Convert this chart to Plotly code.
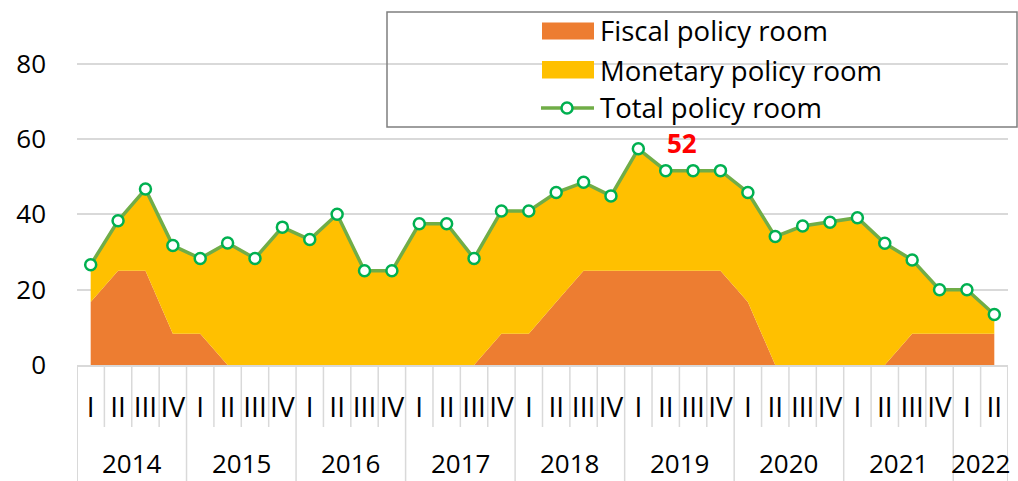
import plotly.graph_objects as go

years = ["2014", "2015", "2016", "2017", "2018", "2019", "2020", "2021", "2022"]
quarters_per_year = [4, 4, 4, 4, 4, 4, 4, 4, 2]
quarter_names = ["I", "II", "III", "IV"]

categories = []
quarter_labels = []
for yr, n in zip(years, quarters_per_year):
    for q in quarter_names[:n]:
        categories.append(f"{yr} {q}")
        quarter_labels.append(q)

fiscal = [16.7, 25.0, 25.0, 8.3, 8.3, 0, 0, 0,
          0, 0, 0, 0, 0, 0, 0, 8.3,
          8.3, 16.7, 25.0, 25.0, 25.0, 25.0, 25.0, 25.0,
          16.7, 0, 0, 0, 0, 0, 8.3, 8.3,
          8.3, 8.3]
monetary = [9.9, 13.3, 21.7, 23.4, 20.0, 32.4, 28.3, 36.6,
            33.3, 40.0, 25.0, 25.0, 37.5, 37.5, 28.3, 32.6,
            32.6, 29.1, 23.5, 19.9, 32.4, 26.6, 26.6, 26.6,
            29.1, 34.1, 36.9, 37.9, 39.1, 32.3, 19.6, 11.7,
            11.7, 5.1]
total = [26.6, 38.3, 46.7, 31.7, 28.3, 32.4, 28.3, 36.6,
         33.3, 40.0, 25.0, 25.0, 37.5, 37.5, 28.3, 40.9,
         40.9, 45.8, 48.5, 44.9, 57.4, 51.6, 51.6, 51.6,
         45.8, 34.1, 36.9, 37.9, 39.1, 32.3, 27.9, 20.0,
         20.0, 13.4]
y_ticks = [0, 20, 40, 60, 80]
highlight_index = 21
highlight_text = "52"
legend_names = ["Fiscal policy room", "Monetary policy room", "Total policy room"]

FONT = "Open Sans"
GRID = "#D9D9D9"
C_FISCAL = "#ED7D31"
C_MONETARY = "#FFC000"
C_LINE = "#70AD47"
C_MARK = "#00B050"

W, H = 1018, 481
ML, MR, MT, MB = 77, 10, 26, 116
PW, PH = W - ML - MR, H - MT - MB


def px(x):
    return (x - ML) / PW


def py(y):
    return (H - MB - y) / PH


fig = go.Figure()
fig.add_trace(go.Scatter(
    x=categories, y=fiscal, name=legend_names[0], stackgroup="one",
    mode="none", fillcolor=C_FISCAL, hoverinfo="skip", showlegend=False))
fig.add_trace(go.Scatter(
    x=categories, y=monetary, name=legend_names[1], stackgroup="one",
    mode="none", fillcolor=C_MONETARY, hoverinfo="skip", showlegend=False))
fig.add_trace(go.Scatter(
    x=categories, y=total, name=legend_names[2], mode="lines+markers",
    line=dict(color=C_LINE, width=3.5),
    marker=dict(size=11, color="white", line=dict(color=C_MARK, width=2.5)),
    showlegend=False))

shapes = []
# separators below the category axis
boundaries = []
pos = 0
for n in quarters_per_year:
    boundaries.append(pos - 0.5)
    pos += n
boundaries.append(pos - 0.5)
for i in range(len(categories) + 1):
    b = i - 0.5
    xb = min(max(b, -0.49), len(categories) - 0.51)
    y1 = py(H) if b in boundaries else py(427)
    shapes.append(dict(type="line", xref="x", yref="paper", x0=xb, x1=xb,
                       y0=0, y1=y1, line=dict(color=GRID, width=1.5)))

# legend (box, swatches, line sample)
shapes.append(dict(type="rect", xref="paper", yref="paper", x0=px(387), x1=px(1017),
                   y0=py(127), y1=py(12), line=dict(color="#7F7F7F", width=1.5)))
shapes.append(dict(type="rect", xref="paper", yref="paper", x0=px(542), x1=px(594),
                   y0=py(39.5), y1=py(22.5), fillcolor=C_FISCAL, line=dict(width=0)))
shapes.append(dict(type="rect", xref="paper", yref="paper", x0=px(542), x1=px(594),
                   y0=py(78.5), y1=py(61), fillcolor=C_MONETARY, line=dict(width=0)))
shapes.append(dict(type="line", xref="paper", yref="paper", x0=px(541), x1=px(594),
                   y0=py(108), y1=py(108), line=dict(color=C_LINE, width=3.5)))
shapes.append(dict(type="circle", xref="paper", yref="paper", xsizemode="pixel",
                   ysizemode="pixel", xanchor=px(567), yanchor=py(108),
                   x0=-5.5, x1=5.5, y0=-5.5, y1=5.5, fillcolor="white",
                   line=dict(color=C_MARK, width=2.5)))

annotations = []
for name, yc in zip(legend_names, [31, 70, 107]):
    annotations.append(dict(x=px(598), y=py(yc), xref="paper", yref="paper",
                            text=name, showarrow=False, xanchor="left", yanchor="middle",
                            font=dict(family=FONT, size=27.5, color="black")))
pos = 0
for yr, n in zip(years, quarters_per_year):
    annotations.append(dict(x=pos + (n - 1) / 2, y=py(462.5), xref="x", yref="paper",
                            text=yr, showarrow=False, yanchor="middle",
                            font=dict(family=FONT, size=26, color="black")))
    pos += n
annotations.append(dict(x=categories[highlight_index], y=total[highlight_index],
                        xref="x", yref="y", text=highlight_text, showarrow=False,
                        xshift=16, yshift=28,
                        font=dict(family=FONT, size=26, color="#FF0000", weight="bold")))

fig.update_layout(
    width=W, height=H,
    margin=dict(l=ML, r=MR, t=MT, b=MB),
    plot_bgcolor="white", paper_bgcolor="white",
    font=dict(family=FONT, size=26, color="black"),
    showlegend=False,
    xaxis=dict(type="category", categoryorder="array", categoryarray=categories,
               range=[-0.5, len(categories) - 0.5],
               tickmode="array", tickvals=categories, ticktext=quarter_labels,
               ticks="", showgrid=False, showline=True, linecolor=GRID, linewidth=1.5,
               ticklabelstandoff=17, tickfont=dict(family=FONT, size=28)),
    yaxis=dict(range=[0, 90], tickvals=y_ticks, showgrid=True,
               gridcolor=GRID, gridwidth=1.5, zeroline=False, showline=False,
               ticks="", ticklabelstandoff=30, tickfont=dict(family=FONT, size=26)),
    shapes=shapes, annotations=annotations,
)

fig.write_html("out.html", config={"displayModeBar": False},
               post_script="document.body.style.margin='0';document.body.style.overflow='hidden';")
